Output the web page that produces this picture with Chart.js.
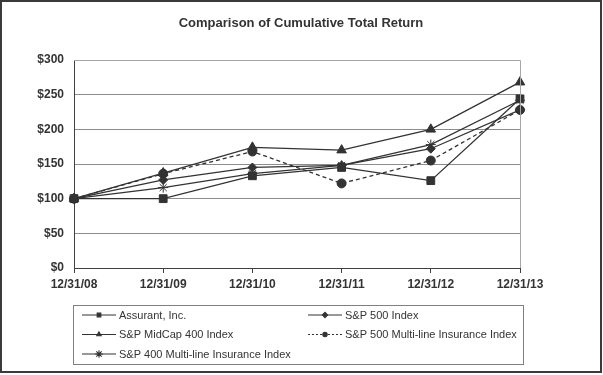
<!DOCTYPE html>
<html>
<head>
<meta charset="utf-8">
<script src="https://cdn.jsdelivr.net/npm/chart.js@4/dist/chart.umd.min.js"></script>
<style>
    body { margin: 0; background: #fff; }
    canvas { display: block; }
</style>
</head>
<body>
<canvas id="returnChart" width="603" height="375"></canvas>
<script>
// values
const periods = ['12/31/08', '12/31/09', '12/31/10', '12/31/11', '12/31/12', '12/31/13'];
const assurant = [100, 100, 133, 145, 126, 244];
const sp500 = [100, 127, 145, 148, 172, 228];
const midcap400 = [100, 137, 174, 170, 200, 268];
const sp500MultiLine = [100, 136, 168, 122, 155, 228];
const sp400MultiLine = [100, 116, 136, 148, 178, 242];
const yTicks = [0, 50, 100, 150, 200, 250, 300];

const INK = '#333333';
const FONT = '"Liberation Sans", Arial, sans-serif';

function series(label, data, pointStyle, radius, dash) {
    return {
        label: label,
        data: data,
        borderColor: INK,
        backgroundColor: INK,
        borderWidth: 1.3,
        borderDash: dash || [],
        pointStyle: pointStyle,
        pointRadius: radius,
        pointHoverRadius: radius,
        pointBackgroundColor: INK,
        pointBorderColor: INK,
        pointBorderWidth: 1,
        tension: 0,
        fill: false
    };
}

const datasets = [
    series('Assurant, Inc.', assurant, 'rect', 5.5),
    series('S&P 500 Index', sp500, 'rectRot', 4.5),
    series('S&P MidCap 400 Index', midcap400, 'triangle', 5.5),
    series('S&P 500 Multi-line Insurance Index', sp500MultiLine, 'circle', 4.5, [4, 3]),
    series('S&P 400 Multi-line Insurance Index', sp400MultiLine, 'star', 5)
];

// frame, title and legend box drawn around the chart area
const decorations = {
    id: 'decorations',
    afterDraw(chart) {
        const ctx = chart.ctx;
        const area = chart.chartArea;
        ctx.save();

        // outer frame
        ctx.strokeStyle = '#3a3a3a';
        ctx.lineWidth = 2;
        ctx.strokeRect(1, 1, 600, 371);

        // plot border: light top/right
        ctx.lineWidth = 1;
        ctx.strokeStyle = '#a6a6a6';
        ctx.beginPath();
        ctx.moveTo(area.left, area.top + 0.5);
        ctx.lineTo(area.right + 0.5, area.top + 0.5);
        ctx.lineTo(area.right + 0.5, area.bottom);
        ctx.stroke();

        // title
        ctx.fillStyle = INK;
        ctx.font = 'bold 13px ' + FONT;
        ctx.textAlign = 'center';
        ctx.textBaseline = 'middle';
        ctx.fillText('Comparison of Cumulative Total Return', 301, 23);

        // legend box
        ctx.strokeStyle = '#808080';
        ctx.strokeRect(73.5, 305.5, 450, 59);
        ctx.font = '11px ' + FONT;
        ctx.textAlign = 'left';
        chart.data.datasets.forEach((ds, i) => {
            const x = i % 2 === 0 ? 82 : 308;
            const y = 315 + Math.floor(i / 2) * 19.5;
            ctx.strokeStyle = INK;
            ctx.lineWidth = 1.1;
            ctx.setLineDash(ds.borderDash.length ? [2, 2] : []);
            ctx.beginPath();
            ctx.moveTo(x, y);
            ctx.lineTo(x + 34, y);
            ctx.stroke();
            ctx.setLineDash([]);
            ctx.fillStyle = INK;
            const isStar = ds.pointStyle === 'star';
            Chart.helpers.drawPoint(ctx, {
                pointStyle: ds.pointStyle,
                radius: isStar ? 3.8 : (ds.pointStyle === 'circle' ? 2.2 : 2.6),
                rotation: 0,
                borderWidth: isStar ? 0.8 : 1
            }, x + 17, y);
            ctx.fillStyle = INK;
            ctx.fillText(ds.label, x + 37, y + 0.5);
        });
        ctx.restore();
    }
};

new Chart(document.getElementById('returnChart'), {
    type: 'line',
    data: { labels: periods, datasets: datasets },
    options: {
        responsive: false,
        animation: false,
        events: [],
        layout: { padding: { left: 0, top: 60, right: 83, bottom: 0 } },
        plugins: {
            legend: { display: false },
            title: { display: false },
            tooltip: { enabled: false }
        },
        scales: {
            x: {
                type: 'category',
                offset: false,
                grid: {
                    drawOnChartArea: false,
                    drawTicks: true,
                    tickLength: 5,
                    color: '#404040'
                },
                border: { color: '#404040', width: 1 },
                ticks: {
                    color: INK,
                    font: { family: FONT, size: 12, weight: 'bold' },
                    padding: 4,
                    maxRotation: 0,
                    autoSkip: false
                },
                afterFit(scale) { scale.height = 107; }
            },
            y: {
                min: 0,
                max: 300,
                afterBuildTicks(scale) {
                    scale.ticks = yTicks.map(v => ({ value: v }));
                },
                grid: {
                    color: '#8c8c8c',
                    drawTicks: false
                },
                border: { color: '#404040', width: 1 },
                ticks: {
                    color: INK,
                    font: { family: FONT, size: 12, weight: 'bold' },
                    padding: 10,
                    callback: v => '$' + v
                },
                afterFit(scale) { scale.width = 74; }
            }
        }
    },
    plugins: [decorations]
});
</script>
</body>
</html>
